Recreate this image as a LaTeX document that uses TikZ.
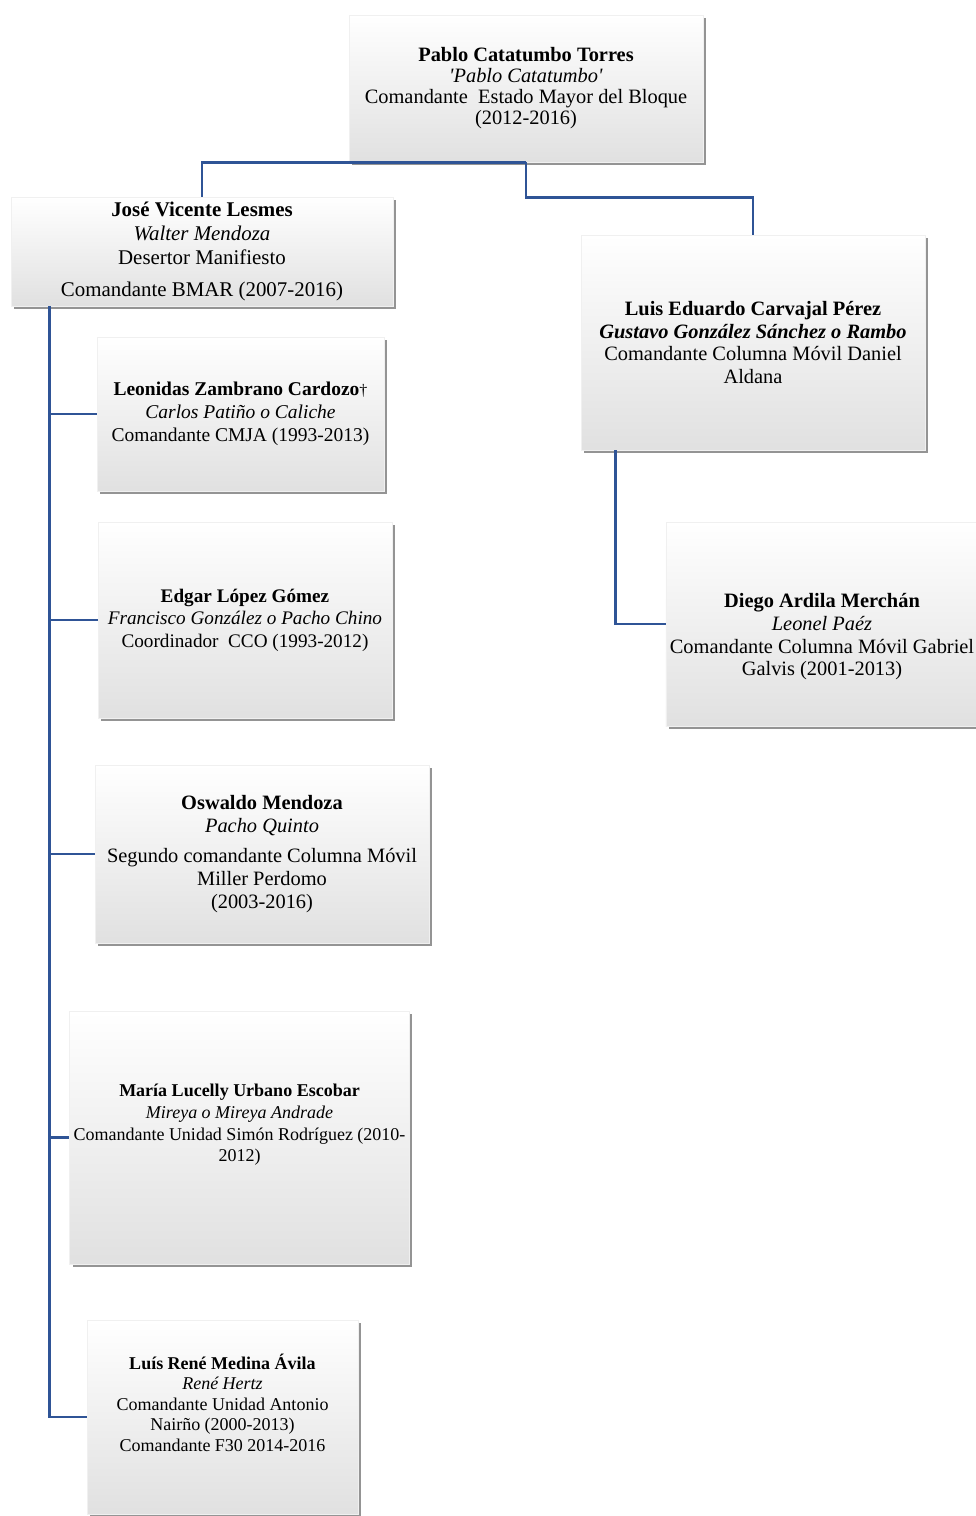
\documentclass[tikz,border=0pt]{standalone}
\usepackage{fontspec}
\setmainfont{Liberation Serif}
\usetikzlibrary{shadows}
\definecolor{azul}{RGB}{47,84,150}
\begin{document}
\begin{tikzpicture}[x=0.5pt, y=-0.5pt, thick,
                    caja/.style={align=center, inner sep=2pt, top color=white, middle color=gray!3, bottom color=gray!24,
                                 draw=gray!12, line width=0.3pt,
                                 drop shadow={shadow xshift=1.5pt, shadow yshift=-1.5pt, opacity=0.42, fill=black},
                                 font=\fontsize{10.2}{11.3}\selectfont},
                    enlace/.style={azul, line width=1.3pt}]
                    \useasboundingbox (0,0) rectangle (975,1516);
                    \node[caja, minimum width=177pt, minimum height=73.5pt, font=\fontsize{10.2}{10.5}\selectfont] (pablo) at (526,88.5)
                        {\textbf{Pablo Catatumbo Torres}\\ \textit{\textquotesingle Pablo Catatumbo\textquotesingle}\\ Comandante~ Estado Mayor del Bloque\\ (2012-2016)};
                    \node[caja, minimum width=191pt, minimum height=54.5pt, font=\fontsize{10.45}{12}\selectfont] (jose) at (202,251.5)
                        {\textbf{José Vicente Lesmes}\\ \textit{Walter Mendoza}\\ Desertor Manifiesto\\[4pt] Comandante BMAR (2007-2016)};
                    \node[caja, minimum width=172pt, minimum height=107.5pt] (luis) at (753,342.5)
                        {\textbf{Luis Eduardo Carvajal Pérez}\\ \textbf{\textit{Gustavo González Sánchez o Rambo}}\\ Comandante Columna Móvil Daniel\\ Aldana};
                    \node[caja, minimum width=143.5pt, minimum height=77pt, font=\fontsize{9.75}{11.4}\selectfont] (leonidas) at (240.5,414)
                        {\textbf{Leonidas Zambrano Cardozo}{\footnotesize\textdagger}\\ \textit{Carlos Patiño o Caliche}\\ Comandante CMJA (1993-2013)};
                    \node[caja, minimum width=147pt, minimum height=98pt, font=\fontsize{9.6}{11.2}\selectfont] (edgar) at (245,620)
                        {\textbf{Edgar López Gómez}\\ \textit{Francisco González o Pacho Chino}\\ Coordinador~ CCO (1993-2012)};
                    \node[caja, minimum width=167pt, minimum height=89pt] (oswaldo) at (262,854)
                        {\textbf{Oswaldo Mendoza}\\ \textit{Pacho Quinto}\\[4pt] Segundo comandante Columna Móvil\\ Miller Perdomo\\ (2003-2016)};
                    \node[caja, minimum width=169.5pt, minimum height=126.5pt, font=\fontsize{9}{10.9}\selectfont] (maria) at (239.5,1137.5)
                        {\textbf{María Lucelly Urbano Escobar}\\ \textit{Mireya o Mireya Andrade}\\ Comandante Unidad Simón Rodríguez (2010-\\ 2012)\rule[-14.5pt]{0pt}{1pt}};
                    \node[caja, minimum width=135.5pt, minimum height=97pt, font=\fontsize{9}{10.3}\selectfont] (rene) at (222.5,1417)
                        {\textbf{Luís René Medina Ávila}\\ \textit{René Hertz}\\ Comandante Unidad Antonio\\ Nairño (2000-2013)\\ Comandante F30 2014-2016\rule[-14.5pt]{0pt}{1pt}};
                    \node[caja, minimum width=155pt, minimum height=102pt] (diego) at (822,624)
                        {\rule{0pt}{20pt}\textbf{Diego Ardila Merchán}\\ \textit{Leonel Paéz}\\ Comandante Columna Móvil Gabriel\\ Galvis (2001-2013)};
                    \draw[enlace] (pablo.south) -| (jose.north);
                    \draw[enlace] (pablo.south) -- ++(0,35) -| (luis.north);
                    \coordinate (eje) at ([xshift=19.5pt]jose.south west);
                    \foreach \hijo in {leonidas,edgar,oswaldo,maria,rene}
                        \draw[enlace] (eje) |- (\hijo.west);
                    \coordinate (ejeluis) at ([xshift=17.5pt]luis.south west);
                    \draw[enlace] (ejeluis) |- (diego.west);
                \end{tikzpicture}
\end{document}
